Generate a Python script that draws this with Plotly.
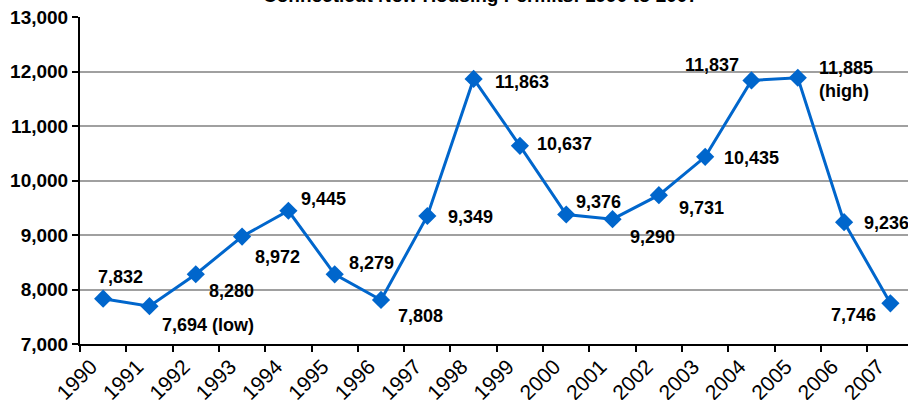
import plotly.graph_objects as go

years = ["1990", "1991", "1992", "1993", "1994", "1995", "1996", "1997", "1998",
         "1999", "2000", "2001", "2002", "2003", "2004", "2005", "2006", "2007"]
permits = [7832, 7694, 8280, 8972, 9445, 8279, 7808, 9349, 11863,
           10637, 9376, 9290, 9731, 10435, 11837, 11885, 9236, 7746]
label_text = ["7,832", "7,694 (low)", "8,280", "8,972", "9,445", "8,279", "7,808", "9,349", "11,863",
              "10,637", "9,376", "9,290", "9,731", "10,435", "11,837", "11,885<br>(high)", "9,236", "7,746"]
y_ticks = [7000, 8000, 9000, 10000, 11000, 12000, 13000]
title_text = "Connecticut New Housing Permits: 1990 to 2007"

# label offsets in pixels (dx right, dy down)
offsets = [(17, -22), (59, 19), (36, 17), (35, 20), (35, -12), (37, -11), (39, 16), (43, 1), (48, 3),
           (45, -2), (32, -13), (40, 18), (43, 13), (46, 1), (-39, -15), (48, 2), (42, 1), (-37, 12)]

BLUE = "#0066CC"
FONT = "Liberation Sans, Arial, Helvetica, sans-serif"

fig = go.Figure()
fig.add_trace(go.Scatter(
    x=years, y=permits, mode="lines+markers",
    line=dict(color=BLUE, width=3),
    marker=dict(symbol="diamond", size=14, color=BLUE),
    hoverinfo="x+y", showlegend=False,
))

annotations = []
for i, (v, t, (dx, dy)) in enumerate(zip(permits, label_text, offsets)):
    annotations.append(dict(
        x=i, y=v, xref="x", yref="y", text="<b>" + t + "</b>", showarrow=False,
        xshift=dx, yshift=-dy, align="left",
        font=dict(family=FONT, size=18, color="black"),
    ))
annotations.append(dict(
    x=(480 - 80) / 828, y=1, xref="paper", yref="paper", xanchor="center", yanchor="bottom",
    yshift=9, text="<b>" + title_text + "</b>", showarrow=False,
    font=dict(family=FONT, size=19, color="black"),
))

fig.update_layout(
    width=908, height=400,
    margin=dict(l=80, r=0, t=17, b=56),
    paper_bgcolor="white", plot_bgcolor="white",
    annotations=annotations,
    font=dict(family=FONT, color="black"),
)
fig.update_xaxes(
    type="category", range=[-0.5, 17.38], automargin=False,
    tickson="boundaries", ticks="outside", ticklen=6, tickwidth=1.5, tickcolor="black",
    tickangle=-45, tickfont=dict(family=FONT, size=21, color="black"),
    ticklabelshift=-12, ticklabelstandoff=0,
    showline=True, linecolor="black", linewidth=2, showgrid=False, zeroline=False,
)
fig.update_yaxes(
    range=[7000, 13000], tickvals=y_ticks, tickformat=",", automargin=False,
    ticks="outside", ticklen=6, tickwidth=1.5, tickcolor="black",
    tickfont=dict(family=FONT, size=19, color="black", weight="bold"),
    showline=True, linecolor="black", linewidth=2,
    showgrid=True, gridcolor="#a0a0a0", gridwidth=1.5, zeroline=False,
)

fig.write_html("out.html", config={"displayModeBar": False},
               post_script="document.body.style.margin='0px';document.body.style.overflow='hidden';")
